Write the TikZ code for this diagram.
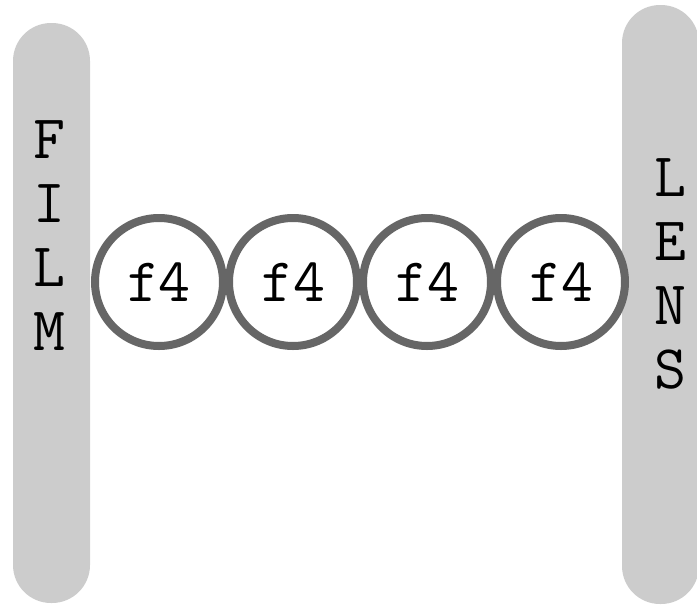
\documentclass[tikz,border=0pt]{standalone}
\usepackage{fontspec}
\usepackage{tikz}

\definecolor{barGray}{HTML}{CCCCCC}
\definecolor{ringGray}{HTML}{666666}

\tikzset{
	stopring/.style={circle, draw=ringGray, fill=white, line width=4pt,
		minimum size=64pt, inner sep=0pt, font=\ttfamily\fontsize{31}{31}\selectfont},
	barletter/.style={inner sep=0pt, font=\ttfamily\fontsize{31}{31}\selectfont}
}

\begin{document}
\begin{tikzpicture}[x=.5pt, y=-.5pt]
	\useasboundingbox (0,0) rectangle (697,606);

	% film and lens bars
	\fill [barGray, rounded corners=19pt] (13,23) rectangle (90,603);
	\fill [barGray, rounded corners=19pt] (622,5) rectangle (699,604);

	\foreach \ch [count=\i] in {F,I,L,M}
		\node [barletter] (film\i) at (49,76+64*\i) {\ch};
	\foreach \ch [count=\i] in {L,E,N,S}
		\node [barletter] (lens\i) at (670,114+64*\i) {\ch};

	% four stops between them
	\foreach \i in {1,...,4}
		\node [stopring] (stop\i) at (25+134*\i,282) {f4};
\end{tikzpicture}
\end{document}
